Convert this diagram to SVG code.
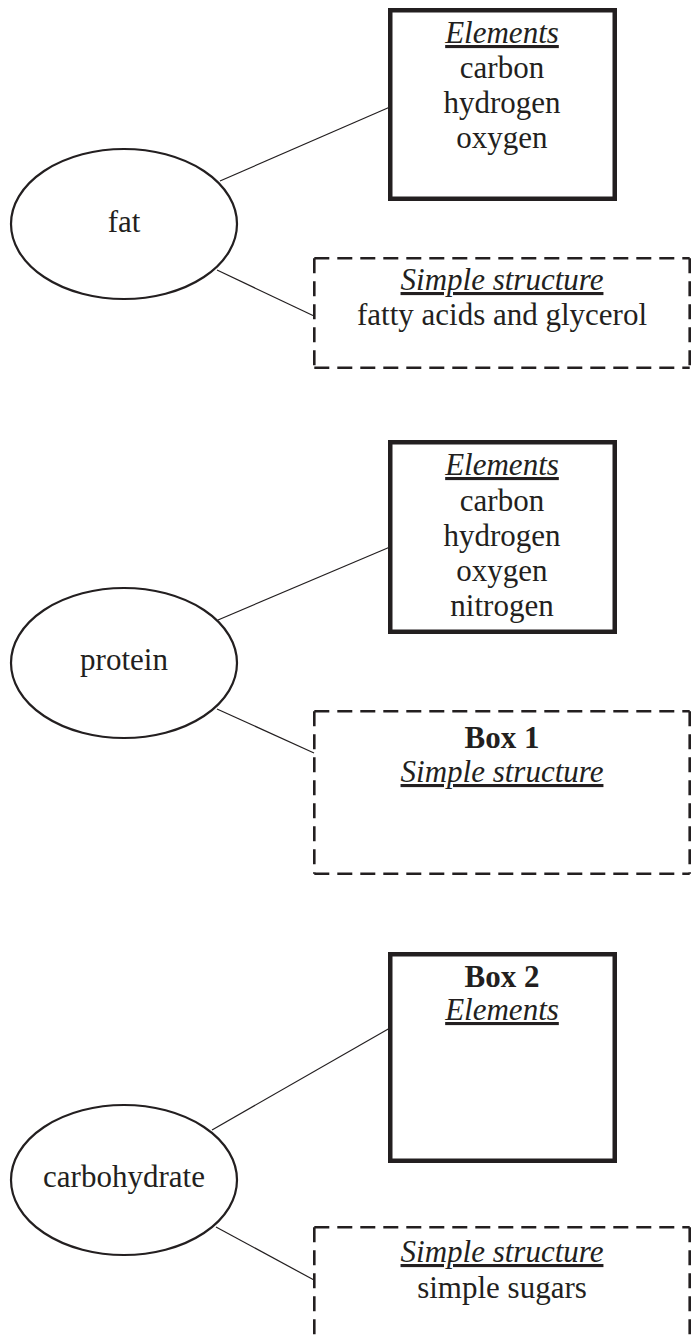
<svg xmlns="http://www.w3.org/2000/svg" width="691" height="1335" viewBox="0 0 691 1335">
<style>
  .bg{fill:#ffffff}
  .solid{fill:#ffffff;stroke:#231f20;stroke-width:4.5}
  .dash{fill:none;stroke:#231f20;stroke-width:2.6;stroke-dasharray:15 8}
  .ell{fill:#ffffff;stroke:#231f20;stroke-width:2.2}
  .conn{stroke:#231f20;stroke-width:1.2;fill:none}
  text{font-family:"Liberation Serif","Times New Roman",serif;font-size:31px;fill:#231f20;text-anchor:middle}
  .hd{font-style:italic;text-decoration:underline}
  .bd{font-weight:bold}
</style>
<rect class="bg" x="0" y="0" width="691" height="1335"/>
<g id="connectors">
  <line class="conn" x1="220" y1="181" x2="390" y2="107"/>
  <line class="conn" x1="217" y1="270" x2="314" y2="316"/>
  <line class="conn" x1="218" y1="620" x2="390" y2="547"/>
  <line class="conn" x1="217" y1="709" x2="314" y2="753"/>
  <line class="conn" x1="212" y1="1130" x2="390" y2="1028"/>
  <line class="conn" x1="216" y1="1227" x2="314" y2="1280"/>
</g>
<g id="fat">
  <ellipse class="ell" cx="124" cy="224" rx="113" ry="75"/>
  <text x="124" y="232">fat</text>
</g>
<g id="fat-elements">
  <rect class="solid" x="390.25" y="10.25" width="224.5" height="188.5"/>
  <text class="hd" x="502" y="43">Elements</text>
  <text x="502" y="78">carbon</text>
  <text x="502" y="113">hydrogen</text>
  <text x="502" y="148">oxygen</text>
</g>
<g id="fat-structure">
  <path class="dash" d="M314.3,258.3 H689.7 M314.3,258.3 V367.7 M314.3,367.7 H689.7 M689.7,258.3 V367.7"/>
  <text class="hd" x="502" y="290">Simple structure</text>
  <text x="502" y="325">fatty acids and glycerol</text>
</g>
<g id="protein">
  <ellipse class="ell" cx="124" cy="663" rx="113" ry="75"/>
  <text x="124" y="670">protein</text>
</g>
<g id="protein-elements">
  <rect class="solid" x="390.25" y="442.25" width="224.5" height="189.5"/>
  <text class="hd" x="502" y="475">Elements</text>
  <text x="502" y="511">carbon</text>
  <text x="502" y="546">hydrogen</text>
  <text x="502" y="581">oxygen</text>
  <text x="502" y="616">nitrogen</text>
</g>
<g id="box1">
  <path class="dash" d="M314.3,711.3 H689.7 M314.3,711.3 V873.7 M314.3,873.7 H689.7 M689.7,711.3 V873.7"/>
  <text class="bd" x="502" y="748">Box 1</text>
  <text class="hd" x="502" y="782">Simple structure</text>
</g>
<g id="carbohydrate">
  <ellipse class="ell" cx="124" cy="1180" rx="113" ry="75"/>
  <text x="124" y="1187">carbohydrate</text>
</g>
<g id="box2">
  <rect class="solid" x="390.25" y="954.25" width="224.5" height="206.5"/>
  <text class="bd" x="502" y="987">Box 2</text>
  <text class="hd" x="502" y="1020">Elements</text>
</g>
<g id="carb-structure">
  <path class="dash" d="M314.3,1227.3 H689.7 M314.3,1227.3 V1345 M689.7,1227.3 V1345"/>
  <text class="hd" x="502" y="1262">Simple structure</text>
  <text x="502" y="1298">simple sugars</text>
</g>
</svg>
